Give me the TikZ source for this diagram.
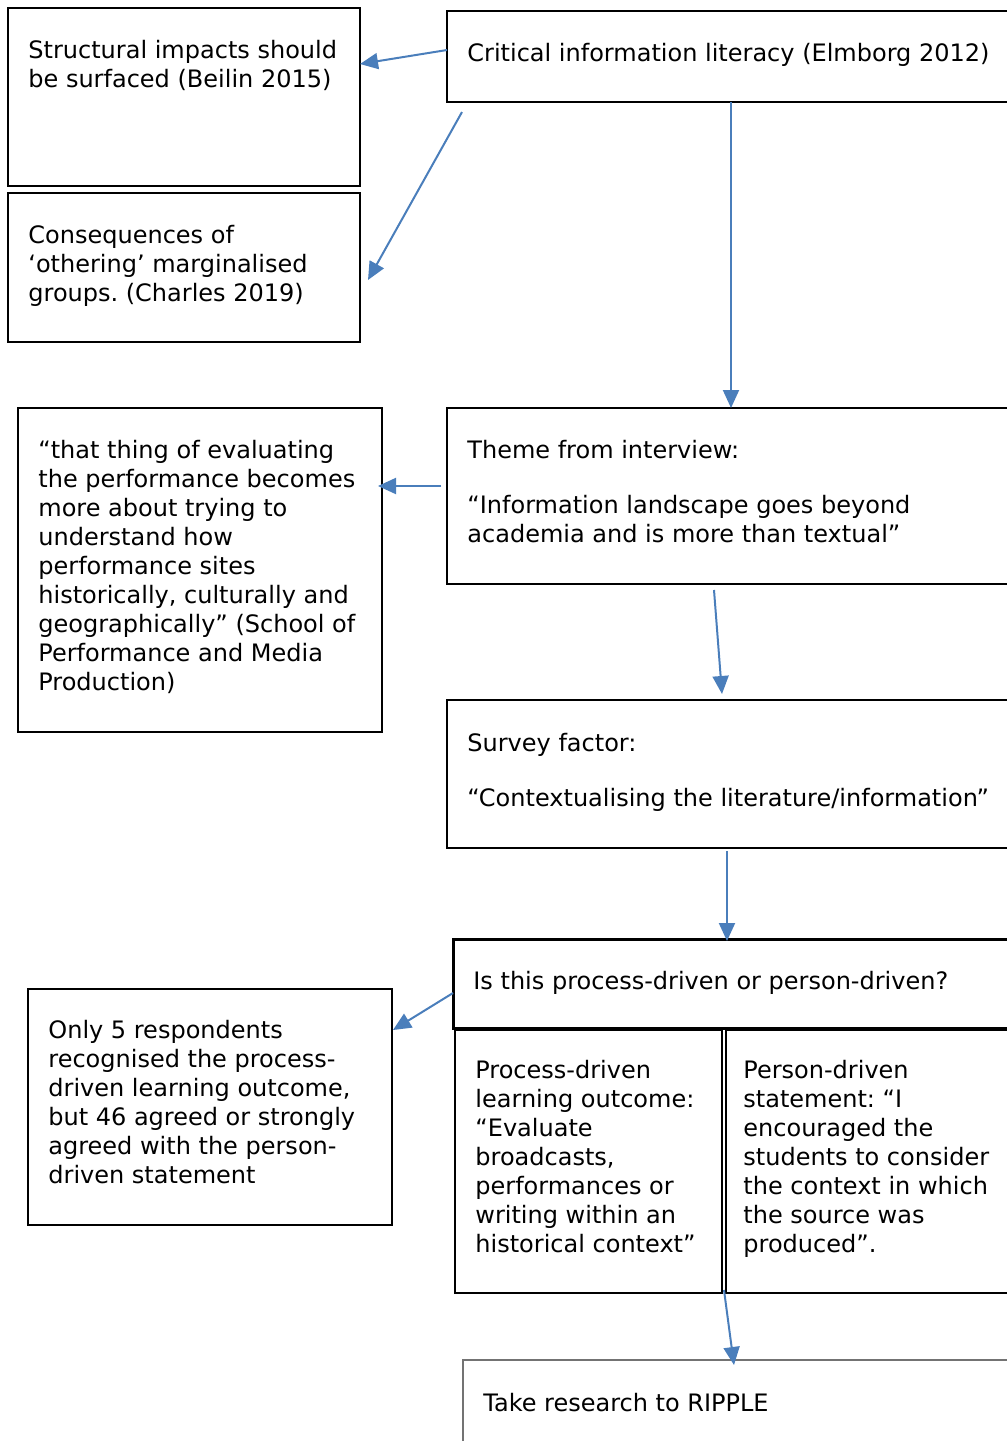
\documentclass[tikz,border=0pt]{standalone}
\usepackage{fontspec}
\setmainfont{DejaVu Sans}
\usetikzlibrary{arrows.meta,calc}
\definecolor{arrowblue}{RGB}{74,126,187}
\begin{document}
\frenchspacing
\begin{tikzpicture}[x=0.5pt,y=-0.5pt,
  box/.style={draw=black,line width=1pt,anchor=north west,inner sep=0pt,outer sep=0pt},
  txt/.style={anchor=north west,inner sep=0pt,align=left,font=\fontsize{12}{14.5}\selectfont\frenchspacing},
  arr/.style={draw=arrowblue,line width=1pt,-{Triangle[length=9pt,width=8pt]}}]
\useasboundingbox (0,0) rectangle (1007,1441);
\clip (0,0) rectangle (1007,1441);
% boxes
\node[box,minimum width=176pt,minimum height=89pt] (b1) at (8,8) {};
\node[box,minimum width=176pt,minimum height=74.5pt] (b2) at (8,193) {};
\node[box,minimum width=286.5pt,minimum height=45.5pt] (b3) at (447,11) {};
\node[box,minimum width=182pt,minimum height=162pt] (b4) at (18,408) {};
\node[box,minimum width=286.5pt,minimum height=88pt] (b5) at (447,408) {};
\node[box,minimum width=286.5pt,minimum height=74pt] (b6) at (447,700) {};
\node[box,line width=1.5pt,minimum width=283.5pt,minimum height=44.5pt] (b7) at (453,939) {};
\node[box,minimum width=182pt,minimum height=118pt] (b8) at (28,989) {};
\node[box,minimum width=133.5pt,minimum height=131.5pt] (b9) at (455,1030) {};
\node[box,minimum width=147pt,minimum height=131.5pt] (b10) at (726,1030) {};
\node[box,draw=black!55,minimum width=278.5pt,minimum height=50pt] (b11) at (463,1360) {};
% texts
\node[txt] (t1) at (28,38) {\strut Structural impacts should\\be surfaced (Beilin 2015)};
\node[txt] (t2) at (28,223) {\strut Consequences of\\‘othering’ marginalised\\groups. (Charles 2019)};
\node[txt] (t3) at (467,41) {\strut Critical information literacy (Elmborg 2012)};
\node[txt] (t4) at (38,438) {\strut “that thing of evaluating\\the performance becomes\\more about trying to\\understand how\\performance sites\\historically, culturally and\\geographically” (School of\\Performance and Media\\Production)};
\node[txt] (t5) at (467,438) {\strut Theme from interview:\\[13pt]“Information landscape goes beyond\\academia and is more than textual”};
\node[txt] (t6) at (467,731) {\strut Survey factor:\\[13pt]“Contextualising the literature/information”};
\node[txt] (t7) at (473,969) {\strut Is this process-driven or person-driven?};
\node[txt] (t8) at (48,1018) {\strut Only 5 respondents\\recognised the process-\\driven learning outcome,\\but 46 agreed or strongly\\agreed with the person-\\driven statement};
\node[txt] (t9) at (475,1058) {\strut Process-driven\\learning outcome:\\“Evaluate\\broadcasts,\\performances or\\writing within an\\historical context”};
\node[txt] (t10) at (743,1058) {\strut Person-driven\\statement: “I\\encouraged the\\students to consider\\the context in which\\the source was\\produced”.};
\node[txt] (t11) at (483,1391) {\strut Take research to RIPPLE};
% arrows
\draw[arr] ($(b3.north west)+(0,39)$) -- ($(b1.north east)+(0,56)$);
\draw[arr] ($(b3.south west)+(15,10)$) -- ($(b2.north east)+(8,87)$);
\draw[arr] ($(b3.south west)+(284,0)$) -- ($(b5.north west)+(284,0)$);
\draw[arr] ($(b5.north west)+(-6,78)$) -- ($(b4.north east)+(-4,78)$);
\draw[arr] ($(b5.south west)+(267,6)$) -- ($(b6.north west)+(275,-6)$);
\draw[arr] ($(b6.south west)+(280,3)$) -- ($(b7.north west)+(274,2)$);
\draw[arr] ($(b7.north west)+(0,54)$) -- ($(b8.north east)+(1,41)$);
\draw[arr] ($(b9.south east)+(2,-3)$) -- ($(b11.north west)+(271,5)$);
\end{tikzpicture}
\end{document}
